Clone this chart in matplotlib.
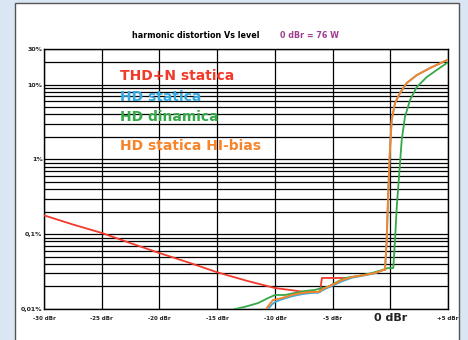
import numpy as np
import matplotlib
matplotlib.use('Agg')
import matplotlib.pyplot as plt
from matplotlib.patches import Rectangle

# level in dBr, distortion in %
thdn_x = [-30, -27.5, -25, -22.5, -20, -17.5, -15, -12.5, -10, -8.5, -7.4, -6.1, -5.92, -5.05, -3.92]
thdn_y = [0.179, 0.135, 0.104, 0.076, 0.056, 0.042, 0.031, 0.024, 0.0191, 0.0178, 0.0169, 0.0169, 0.026, 0.026, 0.026]

hd_x = [-10.59, -10.25, -9.99, -9.38, -8.52, -7.65, -6.78, -6.26, -5.66, -5.05, -4.18, -3.32, -2.19,
        -1.32, -0.63, -0.46, -0.31, -0.17, -0.03, 0.12, 0.41, 0.84, 1.42, 2.29, 3.44, 4.91]
hd_y = [0.0100, 0.0115, 0.0124, 0.0135, 0.0148, 0.0158, 0.0164, 0.0165, 0.0185, 0.0203, 0.0235, 0.0262,
        0.0282, 0.0300, 0.0330, 0.0332, 0.0837, 0.390, 1.34, 3.36, 5.68, 7.72, 10.5, 13.4, 16.7, 21.3]

dyn_x = [-13.45, -12.59, -11.46, -10.59, -9.99, -9.12, -8.26, -7.39, -6.52, -5.92, -5.40, -4.79, -3.92,
         -2.80, -1.58, -0.72, -0.20, 0.15, 0.26, 0.41, 0.56, 0.78, 0.99, 1.27, 1.71, 2.29, 3.15, 4.02, 4.91]
dyn_y = [0.0100, 0.0107, 0.0120, 0.0140, 0.0154, 0.0154, 0.0164, 0.0174, 0.0180, 0.0191, 0.0197, 0.0223,
         0.0260, 0.0276, 0.0303, 0.0332, 0.0353, 0.0353, 0.0353, 0.0837, 0.231, 0.658, 1.82, 3.69, 6.23,
         9.29, 12.6, 15.7, 19.5]

hib_x = [-10.77, -10.16, -9.38, -8.52, -7.65, -6.78, -6.26, -5.66, -5.05, -4.18, -3.32, -2.19, -1.32,
         -0.63, -0.46, -0.31, -0.17, -0.03, 0.12, 0.41, 0.84, 1.42, 2.29, 3.44, 4.91]
hib_y = [0.0100, 0.0132, 0.0140, 0.0154, 0.0164, 0.0169, 0.0169, 0.0191, 0.0209, 0.0244, 0.0268, 0.0285,
         0.0303, 0.0332, 0.0332, 0.0837, 0.390, 1.34, 3.36, 5.68, 7.72, 10.5, 13.4, 16.7, 21.3]

x_ticks = [-30, -25, -20, -15, -10, -5, 0, 5]
x_labels = ['-30 dBr', '-25 dBr', '-20 dBr', '-15 dBr', '-10 dBr', '-5 dBr', '0 dBr', '+5 dBr']
y_ticks = [0.01, 0.1, 1, 10, 30]
y_labels = ['0,01%', '0,1%', '1%', '10%', '30%']

red = '#f23a2a'
blue = '#35a8e0'
green = '#35a84a'
orange = '#f5842a'

fig = plt.figure(figsize=(4.68, 3.40), dpi=100)
fig.patch.set_facecolor('#dae6f3')
fig.patches.append(Rectangle((15 / 468, -0.05), 444 / 468, 1.05 - 3 / 340, transform=fig.transFigure,
                             facecolor='white', edgecolor='#555555', linewidth=1.0, zorder=-1))

ax = fig.add_axes([44 / 468, 1 - 309 / 340, 404 / 468, 260 / 340])
ax.set_zorder(2)
ax.set_yscale('log')
ax.set_xlim(-30, 5)
ax.set_ylim(0.01, 30)

# grid
for v in x_ticks:
    ax.axvline(v, color='black', lw=0.9, zorder=1)
for d in [0.01, 0.1, 1, 10]:
    for m in range(1, 10):
        if d * m <= 30:
            ax.axhline(d * m, color='black', lw=0.9, zorder=1)

ax.plot(thdn_x, thdn_y, color=red, lw=1.3, zorder=3)
ax.plot(dyn_x, dyn_y, color=green, lw=1.3, zorder=3)
ax.plot(hd_x, hd_y, color=blue, lw=1.3, zorder=3)
ax.plot(hib_x, hib_y, color=orange, lw=1.4, zorder=4)

for s in ax.spines.values():
    s.set_color('black')
    s.set_linewidth(1.0)

ax.set_xticks(x_ticks)
ax.set_xticklabels(x_labels)
ax.set_yticks(y_ticks)
ax.set_yticklabels(y_labels)
ax.minorticks_off()
ax.tick_params(axis='x', length=0, pad=6.5)
ax.tick_params(axis='y', length=0, pad=1)
for t in ax.get_xticklabels():
    t.set_fontsize(4)
    t.set_fontweight('bold')
    t.set_color('#222222')
    t.set_va('center')
ax.get_xticklabels()[6].set_fontsize(8)
for t in ax.get_yticklabels():
    t.set_fontsize(4.5)
    t.set_fontweight('bold')
    t.set_color('#222222')

fig.text(196 / 468, 1 - 36 / 340, 'harmonic distortion Vs level', fontsize=5.8, fontweight='bold',
         ha='center', va='center', color='black')
fig.text(280 / 468, 1 - 36 / 340, '0 dBr = 76 W', fontsize=5.8, fontweight='bold',
         ha='left', va='center', color='#a03c90')

legend_items = [('THD+N statica', red, 76), ('HD statica', blue, 97),
                ('HD dinamica', green, 117), ('HD statica HI-bias', orange, 146)]
for label, col, ypx in legend_items:
    fig.text(120 / 468, 1 - ypx / 340, label, fontsize=10, fontweight='bold', color=col,
             ha='left', va='center', zorder=5)

fig.savefig('out.png', dpi=100, facecolor=fig.get_facecolor())
